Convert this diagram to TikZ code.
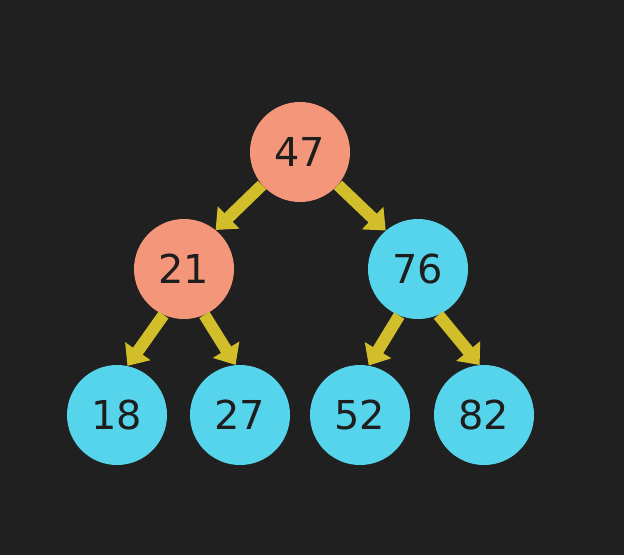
\documentclass[tikz,border=0pt]{standalone}
\usepackage{fontspec}
\setmainfont{DejaVu Sans}
\usetikzlibrary{arrows.meta}

\definecolor{bgdark}{HTML}{202020}
\definecolor{salmon}{HTML}{F4967A}
\definecolor{skyblue}{HTML}{56D4EC}
\definecolor{mustard}{HTML}{D2BE2A}
\definecolor{ink}{HTML}{1E1E1E}

\begin{document}
\begin{tikzpicture}[
    x=0.03cm, y=-0.03cm,
    key/.style={circle, minimum size=3cm, inner sep=0pt, text=ink, font=\fontsize{34}{40}\selectfont},
    hot/.style={key, fill=salmon},
    cold/.style={key, fill=skyblue},
    arrow/.style={-{Triangle[length=0.54cm, width=0.9cm]}, line width=0.36cm, draw=mustard},
]

%% BACKGROUND
    \fill[bgdark] (0,0) rectangle (624,555);
    \useasboundingbox (0,0) rectangle (624,555);

%% NODES
    % root and middle row
    \node[hot] (n47) at (300,152) {47};
    \node[hot] (n21) at (184,269) {21};
    \node[cold] (n76) at (418,269) {76};

    % leaves
    \node[cold] (n18) at (117,415) {18};
    \node[cold] (n27) at (240,415) {27};
    \node[cold] (n52) at (360,415) {52};
    \node[cold] (n82) at (484,415) {82};

%% EDGES
    \draw[arrow] (n47.221) -- (n21.51);
    \draw[arrow] (n47.319) -- (n76.130);

    \draw[arrow] (n21.246) -- (n18.78);
    \draw[arrow] (n21.294) -- (n27.95);

    \draw[arrow] (n76.248) -- (n52.80);
    \draw[arrow] (n76.294) -- (n82.95);

\end{tikzpicture}
\end{document}
